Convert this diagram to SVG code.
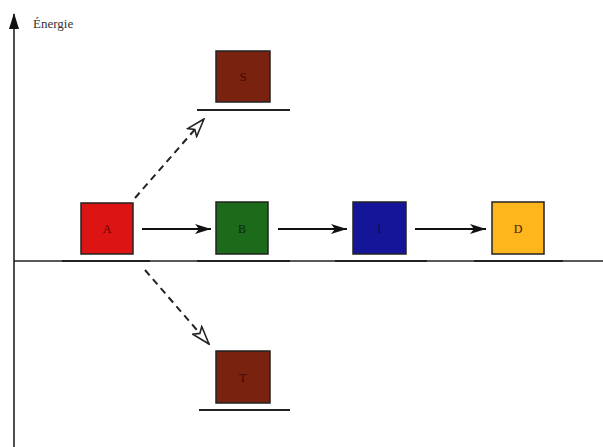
<svg xmlns="http://www.w3.org/2000/svg" width="603" height="447" viewBox="0 0 603 447">
<style>
.box{stroke:#222;stroke-width:1.5}
.lbl{font-family:"Liberation Serif",serif;font-size:12px;text-anchor:middle}
.lvl{stroke:#222;stroke-width:2}
.solid{stroke:#111;stroke-width:1.8;fill:none}
.dash{stroke:#222;stroke-width:2;fill:none;stroke-dasharray:7,5}
</style>
<defs>
<marker id="fill" viewBox="0 0 16 10" refX="16" refY="5" markerWidth="16" markerHeight="10" markerUnits="userSpaceOnUse" orient="auto"><path d="M0,0 L16,5 L0,10 L4,5 Z" fill="#111"/></marker>
<marker id="open" viewBox="0 0 20 14" refX="19" refY="7" markerWidth="20" markerHeight="14" markerUnits="userSpaceOnUse" orient="auto"><path d="M1,1 L19,7 L1,13 L5,7 Z" fill="#fff" stroke="#222" stroke-width="1.6"/></marker>
<marker id="axis" viewBox="0 0 10 16" refX="5" refY="1" markerWidth="10" markerHeight="16" markerUnits="userSpaceOnUse" orient="0"><path d="M5,0 L10,16 L0,16 Z" fill="#111"/></marker>
</defs>
<g id="axes">
<line x1="14" y1="447" x2="14" y2="14" stroke="#222" stroke-width="1.6" marker-end="url(#axis)"/>
<line x1="14" y1="261" x2="603" y2="261" stroke="#222" stroke-width="1.3"/>
<text x="33" y="28" font-family="'Liberation Serif',serif" font-size="13" fill="#333">Énergie</text>
</g>
<g id="connectors">
<line class="solid" x1="142" y1="229" x2="211" y2="229" marker-end="url(#fill)"/>
<line class="solid" x1="278" y1="229" x2="347" y2="229" marker-end="url(#fill)"/>
<line class="solid" x1="415" y1="229" x2="486" y2="229" marker-end="url(#fill)"/>
<line class="dash" x1="135" y1="198" x2="204" y2="119" marker-end="url(#open)"/>
<line class="dash" x1="145" y1="270" x2="209" y2="344" marker-end="url(#open)"/>
</g>
<g id="node-A">
<rect class="box" x="81" y="203" width="52" height="51" fill="#dd1414"/>
<line class="lvl" x1="62" y1="261" x2="150" y2="261"/>
<text class="lbl" x="107" y="233" fill="#5a0000">A</text>
</g>
<g id="node-B">
<rect class="box" x="216" y="202" width="52" height="52" fill="#1b6b1b"/>
<line class="lvl" x1="197" y1="261" x2="290" y2="261"/>
<text class="lbl" x="242" y="233" fill="#0a2a0a">B</text>
</g>
<g id="node-I">
<rect class="box" x="353" y="202" width="53" height="52" fill="#15159a"/>
<line class="lvl" x1="335" y1="261" x2="427" y2="261"/>
<text class="lbl" x="379" y="233" fill="#0a0a50">I</text>
</g>
<g id="node-D">
<rect class="box" x="492" y="202" width="52" height="52" fill="#ffb51c"/>
<line class="lvl" x1="474" y1="261" x2="563" y2="261"/>
<text class="lbl" x="518" y="233" fill="#3a2000">D</text>
</g>
<g id="node-S">
<rect class="box" x="216" y="51" width="54" height="51" fill="#7a2210"/>
<line class="lvl" x1="197" y1="110" x2="290" y2="110"/>
<text class="lbl" x="243" y="81" fill="#3a0800">S</text>
</g>
<g id="node-T">
<rect class="box" x="216" y="351" width="54" height="52" fill="#7a2210"/>
<line class="lvl" x1="199" y1="410" x2="290" y2="410"/>
<text class="lbl" x="243" y="382" fill="#3a0800">T</text>
</g>
</svg>
